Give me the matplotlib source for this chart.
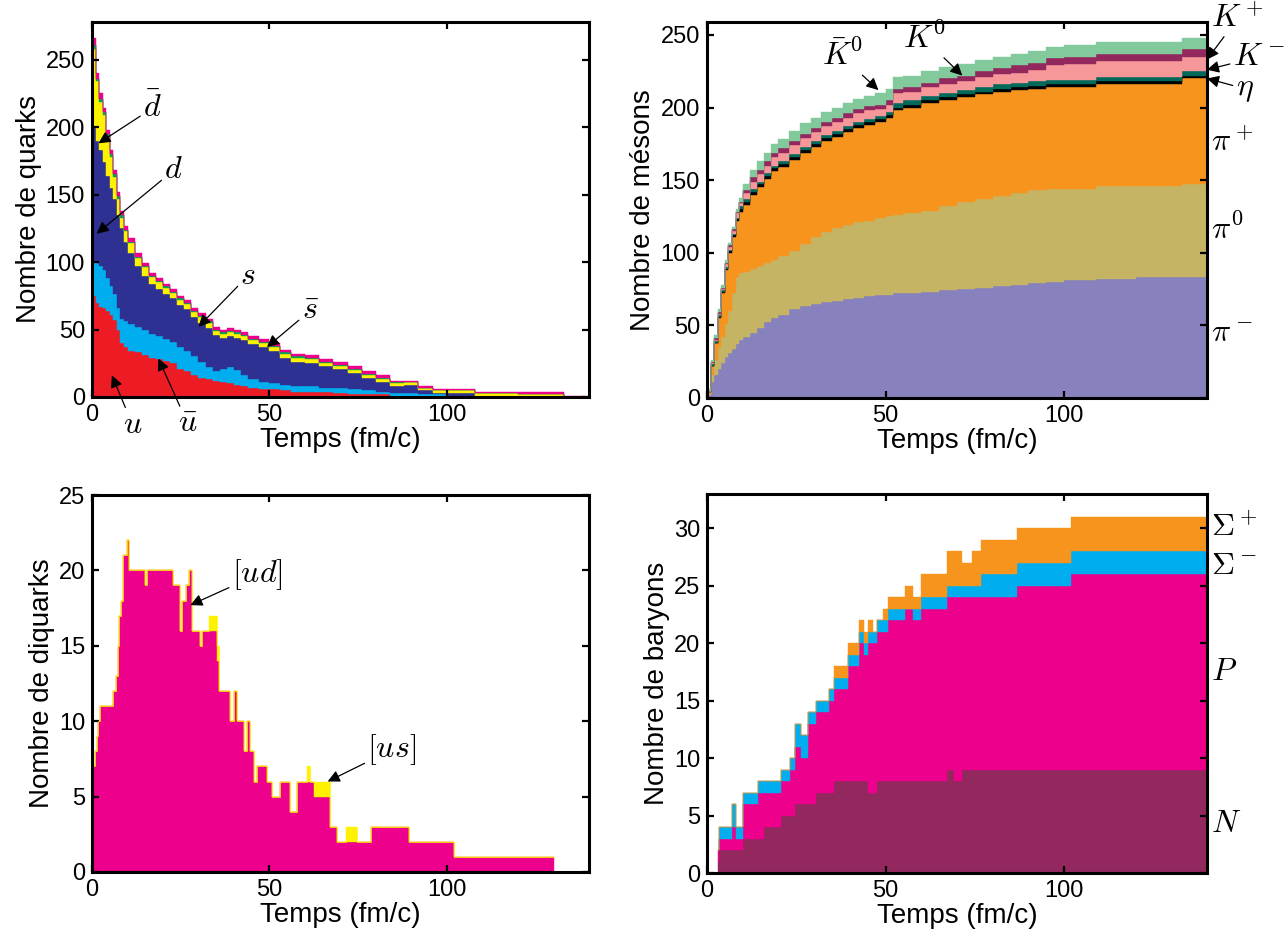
import numpy as np
import matplotlib
matplotlib.use("Agg")
import matplotlib.pyplot as plt

plt.rcParams['font.family'] = ['Liberation Sans', 'DejaVu Sans']
plt.rcParams['mathtext.fontset'] = 'cm'

# =========================
#  DATA
# =========================
# --- quarks (top left) ---
t_quarks = [0, 1, 2, 3, 4, 5, 6, 7, 8, 9, 10, 12, 14, 16, 18, 20, 22, 24, 26, 28, 30, 32, 34, 36,
            38, 40, 42, 44, 47, 50, 53, 56, 60, 64, 68, 72, 76, 80, 84, 88, 92, 96, 100, 104, 108,
            120, 133, 139]
n_u = [75, 70, 67, 66, 64, 61, 57, 50, 40, 37, 34, 33, 31, 29, 28, 27, 25, 21, 19, 16, 14, 13, 12, 11,
       10, 9, 8, 7, 6, 6, 5, 4, 4, 4, 3, 2, 2, 2, 1, 1, 1, 1, 0, 0, 0, 0, 0, 0]
n_ubar = [25, 29, 30, 28, 24, 21, 19, 16, 18, 19, 20, 19, 19, 18, 17, 16, 16, 16, 15, 14, 12, 9, 7, 10,
          12, 11, 8, 6, 5, 4, 4, 4, 4, 3, 4, 4, 3, 2, 2, 2, 1, 1, 1, 1, 0, 0, 0, 0]
n_d = [100, 91, 86, 80, 76, 73, 71, 69, 67, 59, 53, 45, 40, 37, 35, 33, 32, 31, 31, 29, 29, 29, 27, 23,
       23, 24, 26, 26, 26, 24, 20, 18, 17, 16, 14, 12, 9, 7, 5, 6, 3, 1, 2, 2, 1, 1, 0, 0]
n_dbar = [58, 44, 36, 35, 29, 23, 16, 12, 8, 8, 7, 6, 6, 5, 5, 5, 4, 4, 4, 4, 4, 4, 3, 3,
          3, 3, 3, 3, 3, 3, 3, 3, 3, 2, 2, 2, 2, 2, 2, 2, 2, 2, 2, 2, 2, 1, 0, 0]
n_s = [3, 2, 2, 2, 2, 2, 2, 2, 2, 1, 1, 1, 1, 1, 1, 1, 1, 1, 1, 1, 1, 1, 1, 1,
       1, 1, 1, 1, 1, 1, 1, 1, 1, 1, 1, 1, 1, 1, 1, 0, 0, 0, 0, 0, 0, 0, 0, 0]
n_sbar = [5, 4, 4, 3, 3, 3, 3, 3, 3, 3, 3, 3, 2, 2, 2, 2, 2, 2, 2, 2, 2, 2, 2, 2,
          2, 2, 2, 2, 2, 2, 2, 2, 2, 2, 2, 2, 2, 2, 1, 1, 1, 1, 1, 1, 1, 2, 1, 1]

# --- mesons (top right) ---
t_mesons = [0, 1, 2, 3, 4, 5, 6, 7, 8, 9, 10, 12, 14, 16, 18, 20, 23, 26, 29, 32, 35, 38, 41, 44,
            47, 50, 52, 55, 60, 65, 70, 75, 80, 85, 90, 95, 100, 109, 120, 133, 140]
n_pim = [2, 11, 16, 20, 24, 28, 31, 34, 37, 40, 42, 45, 48, 52, 55, 57, 61, 63, 65, 66, 67, 68, 69, 70,
         71, 71, 72, 72, 73, 74, 75, 76, 77, 78, 79, 80, 81, 82, 83, 83, 83]
n_pi0 = [1, 5, 10, 15, 18, 23, 29, 38, 46, 46, 45, 44, 43, 41, 40, 41, 40, 43, 46, 48, 50, 51, 52, 52,
         53, 54, 54, 55, 56, 58, 60, 61, 62, 63, 64, 64, 63, 64, 63, 64, 64]
n_pip = [1, 6, 12, 20, 30, 37, 40, 39, 39, 42, 46, 51, 54, 58, 61, 61, 63, 63, 62, 63, 63, 64, 65, 66,
         66, 68, 72, 73, 74, 73, 72, 72, 72, 71, 70, 70, 70, 70, 70, 73, 73]
n_eta = [0, 0, 0, 1, 1, 1, 1, 1, 1, 2, 2, 2, 2, 2, 2, 2, 2, 2, 2, 2, 2, 2, 2, 2,
         2, 2, 2, 2, 2, 2, 2, 2, 2, 2, 2, 2, 2, 2, 2, 2, 2]
n_teal = [0, 1, 1, 1, 1, 1, 1, 1, 1, 2, 2, 2, 2, 2, 2, 2, 2, 2, 2, 2, 2, 2, 2, 2,
          2, 2, 3, 3, 3, 3, 3, 3, 3, 3, 3, 3, 3, 3, 3, 3, 3]
n_km = [1, 1, 1, 1, 1, 2, 2, 2, 3, 2, 4, 5, 5, 5, 6, 6, 6, 6, 6, 6, 6, 6, 6, 6,
        5, 5, 7, 6, 6, 6, 6, 7, 7, 7, 8, 10, 11, 11, 11, 10, 10]
n_kp = [0, 1, 1, 1, 1, 1, 1, 1, 1, 1, 2, 3, 3, 3, 3, 3, 3, 3, 3, 3, 3, 3, 3, 3,
        3, 3, 3, 3, 3, 4, 4, 4, 4, 5, 5, 5, 5, 5, 5, 5, 5]
n_k0 = [1, 1, 2, 2, 2, 2, 2, 2, 2, 3, 4, 5, 6, 6, 6, 6, 7, 7, 7, 7, 7, 7, 7, 7,
        8, 8, 8, 8, 8, 8, 8, 8, 8, 8, 8, 8, 8, 8, 8, 8, 8]

# --- diquarks (bottom left) ---
t_diquarks = [0, 0.85, 1.3, 1.8, 2.3, 6.0, 6.8, 7.2, 7.6, 8.1, 8.6, 9.8, 10.5, 14.8, 15.4, 22.8, 24.7,
              25.3, 26.6, 27.2, 28.2, 30.5, 31, 32.9, 33.8, 35.2, 35.7, 39, 39.9, 40.9, 42.7, 43.7,
              44.6, 45.6, 46.5, 49.3, 50.8, 53.1, 55.9, 57.8, 60.6, 61.5, 62.5, 67.2, 69.1, 71.5,
              74.8, 78.5, 89.4, 102, 130.3]
n_ud = [7, 8, 9, 10, 11, 12, 13, 15, 17, 18, 21, 22, 20, 19, 20, 19, 16, 18, 19, 20, 16, 15, 16, 16, 16,
        14, 12, 10, 12, 10, 8, 10, 8, 6, 7, 6, 5, 6, 4, 6, 6, 6, 5, 3, 2, 2, 2, 3, 2, 1, 1]
n_us = [0, 0, 0, 0, 0, 0, 0, 0, 0, 0, 0, 0, 0, 0, 0, 0, 0, 0, 0, 0, 0, 0, 0, 1, 1,
        1, 0, 0, 0, 0, 0, 0, 0, 0, 0, 0, 0, 0, 0, 0, 1, 0, 1, 0, 0, 1, 0, 0, 0, 0, 0]

# --- baryons (bottom right) ---
t_baryons = [3.1, 3.4, 4.2, 7.1, 8.1, 10.2, 14.4, 16, 20.6, 23.2, 24.6, 26.4, 28.4, 30.5, 34.2, 35.7,
             39.4, 42.5, 44, 45.1, 46.5, 47.7, 49.3, 50.8, 55.5, 57.6, 59.9, 60.7, 67.3, 69.1, 71.5,
             74.3, 76.6, 86.8, 102, 140]
n_N = [1, 2, 2, 2, 2, 3, 3, 4, 5, 5, 6, 6, 6, 7, 7, 8, 8, 8, 8, 7, 7, 8, 8, 8, 8, 8, 8, 8, 9, 8,
       9, 9, 9, 9, 9, 9]
n_P = [1, 1, 1, 2, 1, 3, 4, 3, 3, 4, 5, 4, 7, 7, 8, 8, 10, 12, 11, 13, 13, 13, 13, 14, 15, 14, 15,
       15, 15, 16, 15, 15, 15, 16, 17, 17]
n_sigm = [0, 1, 1, 2, 1, 1, 1, 1, 1, 1, 2, 2, 1, 1, 1, 1, 1, 1, 1, 1, 1, 1, 1, 1, 0, 1, 1, 1, 1, 1,
          1, 1, 2, 2, 2, 2]
n_sigp = [0, 0, 0, 0, 0, 0, 0, 0, 0, 0, 0, 0, 0, 0, 0, 1, 1, 1, 1, 1, 0, 0, 1, 1, 2, 1, 2, 2, 3, 3,
          2, 3, 3, 3, 3, 3]

# colours
RED, CYAN, NAVY, YELLOW, GREEN, MAGENTA = '#ED1C24', '#00AEEF', '#2E3192', '#FFF200', '#00A651', '#EC008C'
PURPLE, KHAKI, ORANGE = '#8781BD', '#C4B463', '#F7941D'
TEAL, PINK, MAROON, LGREEN = '#00695A', '#F69799', '#92285E', '#82CA9C'

MATH = 23
ARROW = dict(arrowstyle='-|>', color='k', lw=0.9, mutation_scale=18, shrinkA=0, shrinkB=0)


def style_axes(ax, ylim, yticks, ylabel):
    ax.set_xlim(0, 140)
    ax.set_ylim(*ylim)
    ax.set_xticks([0, 50, 100])
    ax.set_yticks(yticks)
    ax.tick_params(direction='in', top=True, right=True, length=5, width=1.6,
                   labelsize=17, pad=5)
    for sp in ax.spines.values():
        sp.set_linewidth(2.2)
    ax.set_xlabel('Temps (fm/c)', fontsize=20, labelpad=1)
    ax.set_ylabel(ylabel, fontsize=20, labelpad=3)


def tag(ax, text, xy, xytext, **kw):
    ax.annotate(text, xy=xy, xytext=xytext, fontsize=MATH, ha='center', va='center',
                arrowprops=ARROW, annotation_clip=False, **kw)


fig = plt.figure(figsize=(12.87, 9.34), dpi=100)
ax_q = fig.add_axes([0.0715, 0.575, 0.386, 0.4015])
ax_m = fig.add_axes([0.5493, 0.574, 0.3885, 0.4026])
ax_dq = fig.add_axes([0.0715, 0.0664, 0.386, 0.4036])
ax_b = fig.add_axes([0.5493, 0.0653, 0.3885, 0.4058])

fill_kw = dict(step='post', edgecolor='face', linewidth=0.3)

# ---- quarks ----
ax_q.stackplot(t_quarks, n_u, n_ubar, n_d, n_dbar, n_s, n_sbar,
               colors=[RED, CYAN, NAVY, YELLOW, GREEN, MAGENTA], **fill_kw)
style_axes(ax_q, (0, 278), range(0, 251, 50), 'Nombre de quarks')
tag(ax_q, r'$\bar{d}$', (1.8, 188), (17, 214))
tag(ax_q, r'$d$', (1.3, 121), (23, 168))
tag(ax_q, r'$s$', (30, 52), (44, 90))
tag(ax_q, r'$\bar{s}$', (49.3, 37), (61.5, 64))
tag(ax_q, r'$u$', (5.6, 16), (11.5, -21))
tag(ax_q, r'$\bar{u}$', (18.7, 28.5), (27, -20))

# ---- mesons ----
ax_m.stackplot(t_mesons, n_pim, n_pi0, n_pip, n_eta, n_teal, n_km, n_kp, n_k0,
               colors=[PURPLE, KHAKI, ORANGE, 'k', TEAL, PINK, MAROON, LGREEN], **fill_kw)
style_axes(ax_m, (0, 259), range(0, 251, 50), 'Nombre de mésons')
tag(ax_m, r'$K^+$', (140, 233), (148.5, 261))
tag(ax_m, r'$K^-$', (140, 226), (154.5, 235))
tag(ax_m, r'$\eta$', (140, 220), (150.5, 213))
tag(ax_m, r'$K^0$', (71.5, 222), (61, 247))
tag(ax_m, r'$\bar{K}^0$', (48, 212), (38, 235))
for lab, yv in [(r'$\pi^+$', 175.5), (r'$\pi^0$', 115.5), (r'$\pi^-$', 44)]:
    ax_m.text(141.2, yv, lab, fontsize=MATH, ha='left', va='center', clip_on=False)

# ---- diquarks ----
ax_dq.stackplot(t_diquarks, n_ud, n_us, colors=[MAGENTA, YELLOW], **fill_kw)
ax_dq.step(t_diquarks, np.add(n_ud, n_us), where='post', color=YELLOW, lw=0.5)
style_axes(ax_dq, (0, 25), range(0, 26, 5), 'Nombre de diquarks')
tag(ax_dq, r'$[ud]$', (27.7, 17.7), (46.5, 19.7))
tag(ax_dq, r'$[us]$', (66.4, 6.0), (84.5, 8.1))

# ---- baryons ----
ax_b.stackplot(t_baryons, n_N, n_P, n_sigm, n_sigp,
               colors=[MAROON, MAGENTA, CYAN, ORANGE], **fill_kw)
style_axes(ax_b, (0, 33), range(0, 31, 5), 'Nombre de baryons')
for lab, yv in [(r'$\Sigma^+$', 30), (r'$\Sigma^-$', 26.7), (r'$P$', 17.5), (r'$N$', 4.3)]:
    ax_b.text(141.2, yv, lab, fontsize=MATH, ha='left', va='center', clip_on=False)

fig.savefig('out.png', dpi=100)
plt.close(fig)
